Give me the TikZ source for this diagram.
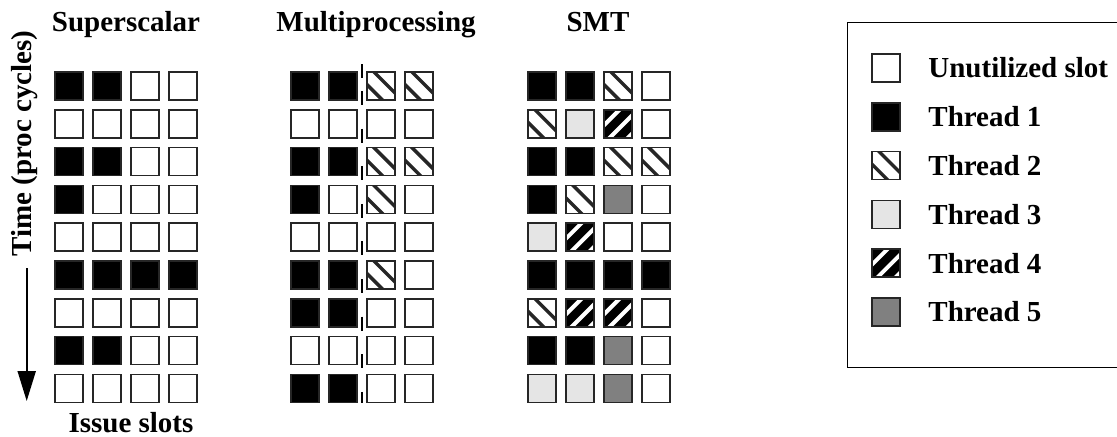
\documentclass[tikz,border=0pt]{standalone}
\usepackage{fontspec}
\setmainfont{Liberation Serif}
\usetikzlibrary{arrows.meta}
\begin{document}
\begin{tikzpicture}[x=0.5pt,y=-0.5pt,
  lbl/.style={font=\fontsize{14.5}{17}\selectfont\bfseries, inner sep=0pt},
  slot/.style={draw=black!85, line width=0.75pt, minimum size=14pt, inner sep=0pt, outer sep=0pt},
  sW/.style={slot, fill=white},
  sB/.style={slot, fill=black},
  s2/.style={slot, fill=white, path picture={
     \begin{scope}[shift={(path picture bounding box.center)}]
       \foreach \k in {3.5,-6.3} \draw[line width=1.7pt] (\k pt-10pt,10pt) -- (\k pt+10pt,-10pt);
     \end{scope}}},
  s3/.style={slot, fill=black!10},
  s4/.style={slot, fill=black, path picture={
     \begin{scope}[shift={(path picture bounding box.center)}]
       \foreach \k in {-6.3,2.8,11.9} \draw[white, line width=2pt] (\k pt-10pt,-10pt) -- (\k pt+10pt,10pt);
     \end{scope}}},
  s5/.style={slot, fill=black!50}
]
\useasboundingbox (0,0) rectangle (1117,436);

% titles
\node[lbl, anchor=base] (tSS) at (126,31) {Superscalar};
\node[lbl, anchor=base] (tMP) at (376,31) {Multiprocessing};
\node[lbl, anchor=base] (tSMT) at (598,31) {SMT};

% time axis
\node[lbl, rotate=90, anchor=base] (time) at (32,143.5) {Time (proc cycles)};
\coordinate (a0) at (26.7,268);
\coordinate (a1) at (26.7,401);
\draw[line width=1pt, -{Triangle[length=15pt,width=9pt]}] (a0) -- (a1);
\node[lbl, anchor=base] (issue) at (131,432) {Issue slots};

% Superscalar
\foreach \r/\L in {1/{B,B,W,W},2/{W,W,W,W},3/{B,B,W,W},4/{B,W,W,W},5/{W,W,W,W},6/{B,B,B,B},7/{W,W,W,W},8/{B,B,W,W},9/{W,W,W,W}}{
  \foreach \t [count=\c] in \L {
    \node[s\t] (ss-\r-\c) at ({31+38*\c},{86+37.8*(\r-1)}) {};
  }
}
% Multiprocessing
\foreach \r/\L in {1/{B,B,2,2},2/{W,W,W,W},3/{B,B,2,2},4/{B,W,2,W},5/{W,W,W,W},6/{B,B,2,W},7/{B,B,W,W},8/{W,W,W,W},9/{B,B,W,W}}{
  \foreach \t [count=\c] in \L {
    \node[s\t] (mp-\r-\c) at ({267+38*\c},{86+37.8*(\r-1)}) {};
  }
}
\coordinate (d0) at (362,64);
\coordinate (d0a) at (362,78);
\coordinate (d0b) at (362,91);
\coordinate (d1) at (362,403);
\draw[line width=1pt] (d0) -- (d0a);
\draw[line width=1pt, dash pattern=on 7pt off 11.8pt] (d0b) -- (d1);

% SMT
\foreach \r/\L in {1/{B,B,2,W},2/{2,3,4,W},3/{B,B,2,2},4/{B,2,5,W},5/{3,4,W,W},6/{B,B,B,B},7/{2,4,4,W},8/{B,B,5,W},9/{3,3,5,W}}{
  \foreach \t [count=\c] in \L {
    \node[s\t] (smt-\r-\c) at ({504+38*\c},{86+37.8*(\r-1)}) {};
  }
}

% legend
\node[draw, line width=0.7pt, minimum width=140pt, minimum height=172.5pt, anchor=north west, inner sep=0pt] (legend) at (847,22) {};
\foreach \t/\txt [count=\i from 0] in {W/Unutilized slot,B/Thread 1,2/Thread 2,3/Thread 3,4/Thread 4,5/Thread 5}{
  \node[s\t] (lg-\i) at (886,{68+48.8*\i}) {};
  \node[lbl, anchor=west] (lt-\i) at (928,{68+48.8*\i}) {\txt};
}
\end{tikzpicture}
\end{document}
